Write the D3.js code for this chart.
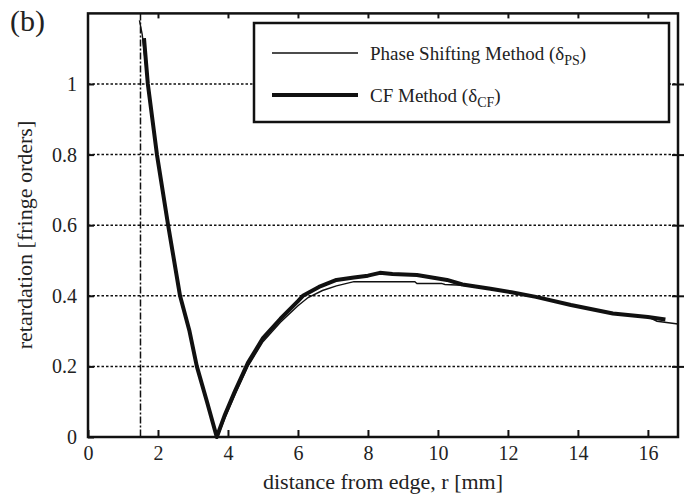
<!DOCTYPE html>
<html>
<head>
<meta charset="utf-8">
<script src="https://cdn.jsdelivr.net/npm/d3@7"></script>
<style>
  body { margin: 0; background: #fff; }
  text { font-family: "Liberation Serif", "DejaVu Serif", serif; fill: #222; }
</style>
</head>
<body>
<div id="chart"></div>
<script>
// distance from edge r [mm] and retardation [fringe orders]
var rPS = [1.47, 1.55, 1.71, 1.97, 2.29, 2.63, 2.9, 3.11, 3.4, 3.7, 3.9, 4.2, 4.57, 5.0, 5.5, 6.0, 6.29, 6.7, 7.1, 7.6, 8.5, 9.34, 9.4, 10.1, 10.2, 10.7, 11.5, 12.1, 12.8, 13.8, 15.0, 16.0, 16.26, 16.86];
var dPS = [1.18, 1.14, 1.0, 0.8, 0.6, 0.4, 0.3, 0.2, 0.1, 0.0, 0.05, 0.12, 0.2, 0.27, 0.325, 0.372, 0.395, 0.415, 0.428, 0.44, 0.44, 0.44, 0.435, 0.435, 0.432, 0.43, 0.42, 0.41, 0.397, 0.374, 0.35, 0.34, 0.328, 0.32];

var rCF = [1.6, 1.71, 1.97, 2.29, 2.63, 2.9, 3.11, 3.4, 3.68, 3.9, 4.2, 4.57, 5.0, 5.5, 6.0, 6.14, 6.6, 7.1, 7.6, 8.0, 8.34, 8.7, 9.4, 10.26, 10.7, 11.5, 12.1, 12.8, 13.8, 15.0, 16.0, 16.5];
var dCF = [1.13, 1.0, 0.8, 0.6, 0.4, 0.3, 0.2, 0.1, 0.0, 0.06, 0.13, 0.21, 0.28, 0.335, 0.385, 0.40, 0.425, 0.445, 0.452, 0.457, 0.465, 0.462, 0.459, 0.445, 0.432, 0.42, 0.41, 0.397, 0.374, 0.35, 0.34, 0.333];

var xTicks = [0, 2, 4, 6, 8, 10, 12, 14, 16];
var yTicks = [0, 0.2, 0.4, 0.6, 0.8, 1];
var yTickLabels = ["0", "0.2", "0.4", "0.6", "0.8", "1"];
var edgeR = 1.5; // dash-dot marker line

function drawChart()
{
  var width = 684,
      height = 496,
      pLeft = 88, pRight = 678, pTop = 13.4, pBottom = 437;

  var svg = d3.select("#chart")
    .append("svg")
      .attr("width", width)
      .attr("height", height);

  var x = d3.scaleLinear().domain([0, 16.86]).range([pLeft, pRight]);
  var y = d3.scaleLinear().domain([0, 1.2]).range([pBottom, pTop]);

  // dotted grid
  svg.selectAll(".grid")
    .data(yTicks.slice(1))
    .enter()
    .append("line")
      .attr("x1", pLeft).attr("x2", pRight)
      .attr("y1", d => y(d)).attr("y2", d => y(d))
      .attr("stroke", "#111")
      .attr("stroke-width", 1.5)
      .attr("stroke-dasharray", "2.5,2");

  // dash-dot vertical line
  svg.append("line")
    .attr("x1", x(edgeR)).attr("x2", x(edgeR))
    .attr("y1", pTop).attr("y2", pBottom)
    .attr("stroke", "#111")
    .attr("stroke-width", 1.5)
    .attr("stroke-dasharray", "7,2,2,2");

  // curves
  var line = d3.line()
    .x(d => x(d[0]))
    .y(d => y(d[1]));

  svg.append("path")
    .datum(d3.zip(rCF, dCF))
    .attr("d", line)
    .attr("fill", "none")
    .attr("stroke", "#111")
    .attr("stroke-width", 4)
    .attr("stroke-linejoin", "round");

  svg.append("path")
    .datum(d3.zip(rPS, dPS))
    .attr("d", line)
    .attr("fill", "none")
    .attr("stroke", "#111")
    .attr("stroke-width", 1.4);

  // axes
  svg.append("g")
    .attr("transform", `translate(0,${pBottom})`)
    .call(d3.axisBottom(x).tickValues(xTicks).tickSize(-7).tickPadding(9));

  svg.append("g")
    .attr("transform", `translate(0,${pTop})`)
    .call(d3.axisTop(x).tickValues(xTicks.slice(1)).tickSize(-5).tickFormat(""));

  svg.append("g")
    .attr("transform", `translate(${pLeft},0)`)
    .call(d3.axisLeft(y).tickValues(yTicks).tickSize(-6).tickPadding(11)
      .tickFormat((d, i) => yTickLabels[i]));

  var yRight = svg.append("g")
    .attr("transform", `translate(${pRight},0)`)
    .call(d3.axisRight(y).tickValues(yTicks.slice(1)).tickSize(6).tickFormat(""));
  yRight.selectAll(".tick line").attr("x1", -6);

  svg.selectAll(".domain").remove();
  svg.selectAll(".tick line").attr("stroke", "#111").attr("stroke-width", 2);
  svg.selectAll(".tick text")
    .style("font-size", "20px")
    .style("font-family", "Liberation Serif")
    .attr("fill", "#222");

  // frame
  svg.append("rect")
    .attr("x", pLeft).attr("y", pTop)
    .attr("width", pRight - pLeft).attr("height", pBottom - pTop)
    .attr("fill", "none")
    .attr("stroke", "#111")
    .attr("stroke-width", 2.5);

  // legend
  var legend = svg.append("g");
  legend.append("rect")
    .attr("x", 254).attr("y", 23)
    .attr("width", 415).attr("height", 99)
    .attr("fill", "#fff")
    .attr("stroke", "#111")
    .attr("stroke-width", 2.5);

  var items = [
    {name: "Phase Shifting Method (δ", sub: "PS", w: 1.4, ly: 53},
    {name: "CF Method (δ", sub: "CF", w: 4, ly: 95}
  ];
  items.forEach(function(it) {
    legend.append("line")
      .attr("x1", 272).attr("x2", 358)
      .attr("y1", it.ly).attr("y2", it.ly)
      .attr("stroke", "#111")
      .attr("stroke-width", it.w);
    var t = legend.append("text")
      .attr("x", 370).attr("y", it.ly + 6.5)
      .style("font-size", "19px");
    t.append("tspan").text(it.name);
    t.append("tspan").attr("dy", 5).style("font-size", "14px").text(it.sub);
    t.append("tspan").attr("dy", -5).text(")");
  });

  // titles
  svg.append("text")
    .attr("x", (pLeft + pRight) / 2)
    .attr("y", 489)
    .attr("text-anchor", "middle")
    .style("font-size", "22px")
    .text("distance from edge, r [mm]");

  svg.append("text")
    .attr("transform", "translate(32,235) rotate(-90)")
    .attr("text-anchor", "middle")
    .style("font-size", "22px")
    .text("retardation [fringe orders]");

  svg.append("text")
    .attr("x", 10).attr("y", 31)
    .style("font-size", "30px")
    .text("(b)");
}

drawChart();
</script>
</body>
</html>
